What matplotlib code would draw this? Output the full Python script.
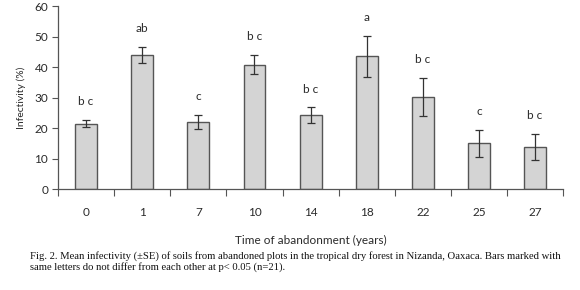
import numpy as np
from matplotlib import pyplot as plt

# 데이터
years = ['0', '1', '7', '10', '14', '18', '22', '25', '27']
infectivity = [21.5, 44.0, 22.0, 40.8, 24.2, 43.5, 30.3, 15.0, 13.9]
se = [1.3, 2.6, 2.2, 3.2, 2.6, 6.7, 6.2, 4.4, 4.3]
letters = ['b c', 'ab', 'c', 'b c', 'b c', 'a', 'b c', 'c', 'b c']

caption = ("Fig. 2. Mean infectivity (\u00b1SE) of soils from abandoned plots in the tropical dry forest in Nizanda, Oaxaca. Bars marked with\n"
           "same letters do not differ from each other at p< 0.05 (n=21).")

plt.rcParams['font.family'] = ['Lato', 'DejaVu Sans']
edge = '#555555'
txt = '#2a2a2a'

fig = plt.figure(figsize=(5.8, 2.9), dpi=100)
ax = fig.add_axes([0.1, 0.348, 0.871, 0.631])

x = np.arange(len(years))
ax.bar(x, infectivity, width=0.39, color='#d4d4d4', edgecolor=edge, linewidth=1.0, zorder=2)
ax.errorbar(x, infectivity, yerr=se, fmt='none', ecolor='#333333', elinewidth=0.9,
            capsize=3, capthick=0.9, zorder=3)

# 유의성 문자
for xi, m, s, lab in zip(x, infectivity, se, letters):
    ax.text(xi, m + s + 6, lab, ha='center', va='center', fontsize=8.5, color=txt)

ax.set_xlim(-0.5, len(years) - 0.5)
ax.set_ylim(0, 60)
ax.set_yticks(np.arange(0, 61, 10))
ax.tick_params(axis='y', labelsize=8.5, length=4, width=0.8, color=edge, labelcolor=txt, pad=3)

# x 눈금은 칸 경계에, 라벨은 칸 중앙에
ax.set_xticks(np.arange(-0.5, len(years), 1.0))
ax.set_xticklabels([])
ax.set_xticks(x, minor=True)
ax.set_xticklabels(years, minor=True)
ax.tick_params(axis='x', which='major', length=5, width=0.8, color=edge)
ax.tick_params(axis='x', which='minor', length=0, labelsize=8.5, labelcolor=txt, pad=13)

for side in ['top', 'right']:
    ax.spines[side].set_visible(False)
for side in ['left', 'bottom']:
    ax.spines[side].set_color(edge)
    ax.spines[side].set_linewidth(0.9)

ax.set_ylabel('Infectivity (%)', fontsize=7.5, color=txt, labelpad=6)
ax.set_xlabel('Time of abandonment (years)', fontsize=8.5, color=txt, labelpad=12)

fig.text(0.052, 0.135, caption, fontsize=7.7, family='Liberation Serif', color='#111111',
         va='top', ha='left', linespacing=1.2)

plt.savefig('out.png', dpi=100)
